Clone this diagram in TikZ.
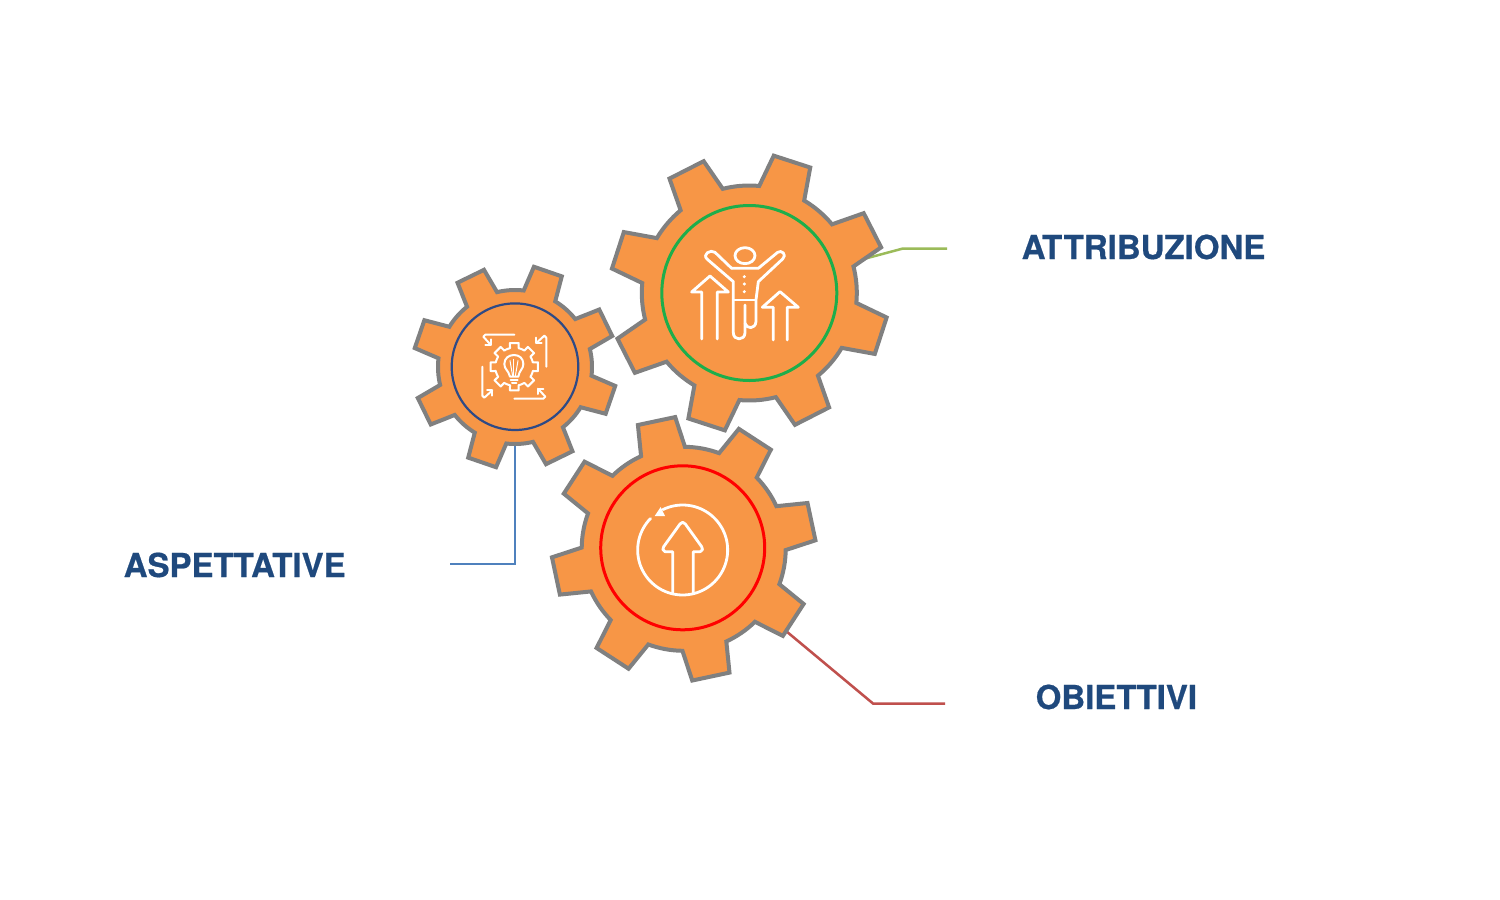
\documentclass[tikz,border=0pt]{standalone}
\usepackage{fontspec}
\setmainfont{TeX Gyre Heros}
\newfontfamily\tagfont[FakeBold=0.6]{TeX Gyre Heros Bold}
\definecolor{gearfill}{HTML}{F79646}
\definecolor{gearedge}{HTML}{808080}
\definecolor{labelblue}{HTML}{1F497D}
\definecolor{ringblue}{HTML}{2E4A86}
\definecolor{ringgreen}{HTML}{1DAE4B}
\definecolor{linkblue}{HTML}{4F81BD}
\definecolor{linkgreen}{HTML}{9BBB59}
\definecolor{linkred}{HTML}{C0504D}
% #1 phase, #2 root radius, #3 tip radius, #4 base half angle, #5 tip half angle
\newcommand{\gearoutline}[5]{
  ({#1-#4}:#2)
  \foreach \i in {0,...,7}{
    -- ({#1+45*\i-#4}:#2) -- ({#1+45*\i-#5}:#3) -- ({#1+45*\i+#5}:#3) -- ({#1+45*\i+#4}:#2)
    \foreach \t in {0.125,0.25,...,0.9}{
      -- ({#1+45*\i+#4+\t*(45-2*#4)}:#2)
    }
  } -- cycle
}
\tikzset{
  gearbody/.style={draw=gearedge,fill=gearfill,line width=4pt,miter limit=10},
  ringline/.style={line width=#1,fill=none},
  iconline/.style={draw=white,line width=2.8pt,line join=round,line cap=round,fill=none},
  thinicon/.style={draw=white,line width=2pt,line join=round,line cap=round,fill=none},
  linkline/.style={line width=2.5pt},
  tag/.style={text=labelblue,font=\fontsize{33}{36}\selectfont\tagfont,inner sep=0pt,anchor=base west}
}
\begin{document}
\begin{tikzpicture}[x=1pt,y=-1pt]
\useasboundingbox (0,0) rectangle (1500,900);
\fill[white] (0,0) rectangle (1500,900);
% anchors
\coordinate (g1) at (515,367);
\coordinate (g2) at (749.3,293);
\coordinate (g3) at (683.7,548.8);
% labels
\node[tag] (asp) at (123.5,577) {ASPETTATIVE};
\node[tag] (att) at (1021.5,259) {A\kern-3.5pt T\kern1.5pt TRIBUZIONE};
\node[tag] (obi) at (1035.5,709) {OBIETTIVI};
% connectors
\coordinate (a0) at (515,430);
\coordinate (a1) at (515,564);
\coordinate (a2) at (450,564);
\draw[linkline,linkblue] (a0) -- (a1) -- (a2);
\coordinate (b0) at (860,260);
\coordinate (b1) at (903,248.5);
\coordinate (b2) at (947,248.5);
\draw[linkline,linkgreen] (b0) -- (b1) -- (b2);
\coordinate (c0) at (780,626);
\coordinate (c1) at (873,703.5);
\coordinate (c2) at (945,703.5);
\draw[linkline,linkred] (c0) -- (c1) -- (c2);
% gears
\begin{scope}[shift={(g1)}]
  \draw[gearbody] \gearoutline{-71}{77}{102}{12.5}{8.3};
  \draw[ringline=2.2pt,draw=ringblue] (0,-0.3) circle[radius=63.3pt];
\end{scope}
\begin{scope}[shift={(g2)}]
  \draw[gearbody] \gearoutline{-72}{107.5}{139.5}{12.7}{7.9};
  \draw[ringline=3pt,draw=ringgreen] (0,0) circle[radius=87.5pt];
\end{scope}
\begin{scope}[shift={(g3)}]
  \draw[gearbody] \gearoutline{-102}{102}{132}{12.7}{8.3};
  \draw[ringline=3pt,draw=red] (-1,-1) circle[radius=82pt];
\end{scope}
% icon of the small gear
\begin{scope}[shift={(514.3,366.7)}]
  \draw[thinicon] \gearoutline{0}{19}{24}{13}{10.5};
  \foreach \r in {0,90,180,270}{
    \begin{scope}[rotate=-\r]
      \draw[thinicon] (0,-32) -- (-29,-32) -- (-31,-30) -- (-23.7,-22);
      \draw[thinicon] (-23.7,-27.3) -- (-23.7,-22) -- (-29,-22);
    \end{scope}
  }
\end{scope}
\begin{scope}[shift={(460,320)},x=0.3333pt,y=-0.3333pt]
  \draw[thinicon] (150,170) .. controls (145,150) and (133,148) .. (133,132)
     .. controls (133,115) and (146,105) .. (162,105)
     .. controls (178,105) and (190,115) .. (190,132)
     .. controls (190,148) and (178,150) .. (175,170) -- cycle;
  \draw[thinicon] (152,180) -- (173,180);
  \draw[thinicon] (156,188) -- (169,188);
  \draw[thinicon,line width=1pt] (150,122) -- (158,168);
  \draw[thinicon,line width=1pt] (162,118) -- (162,168);
  \draw[thinicon,line width=1pt] (174,122) -- (166,168);
\end{scope}
% icon of the large gear
\begin{scope}[shift={(600,140)},x=0.3333pt,y=-0.3333pt]
  \draw[iconline] (435,347) ellipse[x radius=10pt,y radius=8pt];
  \draw[iconline] (395,385) -- (475,385) -- (533,337)
     .. controls (545,328) and (562,345) .. (548,357)
     -- (475,425) -- (468,480) -- (468,545)
     .. controls (466,568) and (440,568) .. (435,550);
  \draw[iconline] (395,385) -- (345,337)
     .. controls (332,327) and (305,343) .. (322,358)
     -- (400,425) -- (400,578)
     .. controls (400,603) and (435,603) .. (435,578) -- (435,495);
  \draw[iconline] (403,480) -- (466,480);
  \foreach \yy in {410,432,455}{\fill[white] (433,\yy) circle[radius=1.7pt];}
  \draw[iconline] (305,597) -- (305,456) -- (275,456) -- (330,408) -- (385,456) -- (352,456) -- (352,597);
  \draw[iconline] (520,600) -- (520,502) -- (487,502) -- (540,455) -- (595,502) -- (562,502) -- (562,600);
\end{scope}
% icon of the lower gear
\begin{scope}[shift={(625,495)},x=0.3333pt,y=-0.3333pt]
  \draw[iconline] plot[domain=224.4:-116,samples=90] ({173+135*cos(\x)},{165+135*sin(\x)});
  \fill[white] (107,36) -- (89,63) -- (120,63) -- cycle;
  \draw[iconline] (143,293) -- (143,170) -- (120,170)
     .. controls (112,168) and (112,160) .. (116,155)
     -- (165,87) .. controls (169,80) and (177,80) .. (181,87)
     -- (230,155) .. controls (234,160) and (234,168) .. (226,170)
     -- (205,170) -- (205,293);
\end{scope}
\end{tikzpicture}
\end{document}
